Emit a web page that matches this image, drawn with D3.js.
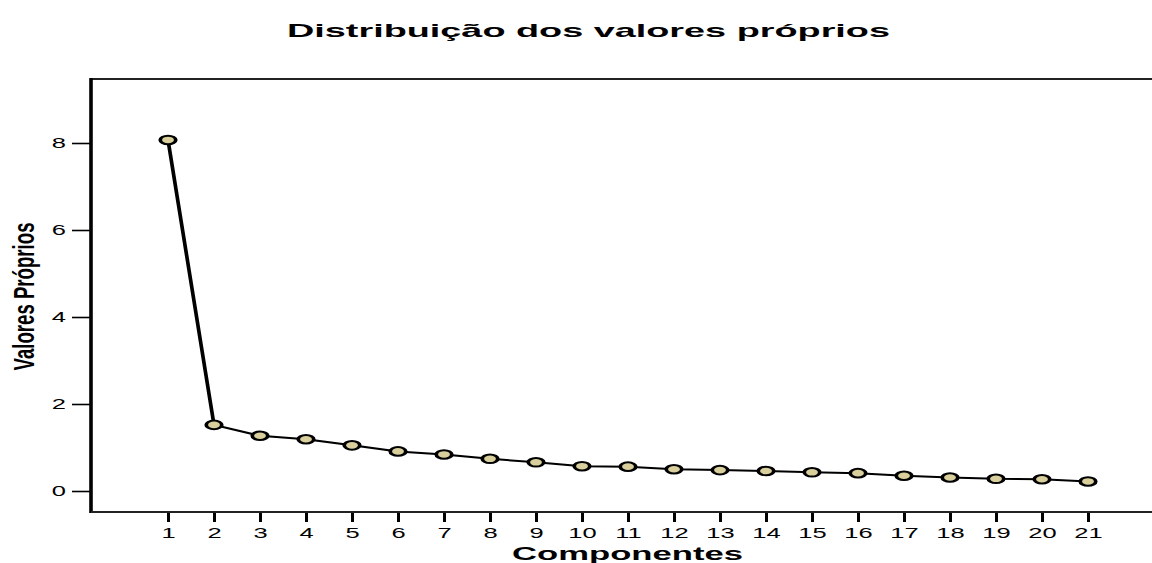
<!DOCTYPE html>
<html>
<head>
<meta charset="utf-8">
<script src="https://cdn.jsdelivr.net/npm/d3@7/dist/d3.min.js"></script>
<style>
  html, body { margin: 0; padding: 0; background: #fff; }
  svg { display: block; font-family: "Liberation Sans", Arial, sans-serif; }
</style>
</head>
<body>
<svg id="chart" width="1152" height="563"></svg>
<script>
// Eigenvalues per principal component (scree plot)
const components = d3.range(1, 22);
const eigenvalues = [8.07, 1.52, 1.27, 1.19, 1.05, 0.91, 0.84, 0.74, 0.66, 0.57, 0.56,
                     0.50, 0.48, 0.46, 0.43, 0.41, 0.35, 0.31, 0.28, 0.27, 0.22];
const yTicks = [0, 2, 4, 6, 8];

const titleText = "Distribuição dos valores próprios";
const xLabel = "Componentes";
const yLabel = "Valores Próprios";

(function draw() {
  const svg = d3.select("#chart");
  const plotLeft = 91, plotRight = 1152, plotTop = 79, plotBottom = 512;
  const stretch = 1.85;   // horizontal widening of the whole figure

  const x = d3.scaleLinear().domain([1, 21]).range([168, 1088]);
  const y = d3.scaleLinear().domain([0, 8]).range([491, 143]);

  // title
  svg.append("text")
    .attr("x", 588.5).attr("y", 36.5)
    .attr("text-anchor", "middle")
    .attr("font-size", 17.8).attr("font-weight", "bold")
    .attr("textLength", 603).attr("lengthAdjust", "spacingAndGlyphs")
    .text(titleText);

  // top frame line
  svg.append("line")
    .attr("x1", plotLeft).attr("x2", plotRight).attr("y1", plotTop).attr("y2", plotTop)
    .attr("stroke", "#222").attr("stroke-width", 1.8);

  // y axis
  const yAxis = svg.append("g")
    .attr("transform", `translate(${plotLeft},0)`)
    .call(d3.axisLeft(y).tickValues(yTicks).tickSize(19).tickFormat(d3.format("d")));
  yAxis.select(".domain").remove();
  yAxis.selectAll(".tick line").attr("stroke", "#000").attr("stroke-width", 1.6);
  yAxis.selectAll(".tick text")
    .attr("x", 0)
    .attr("transform", `translate(-25,0) scale(${stretch - 0.15},1)`)
    .attr("font-size", 15).attr("fill", "#000")
    .attr("font-family", "Liberation Sans, Arial, sans-serif");
  svg.append("line")
    .attr("x1", plotLeft).attr("x2", plotLeft).attr("y1", plotTop - 1).attr("y2", plotBottom + 1)
    .attr("stroke", "#000").attr("stroke-width", 3.6);

  // x axis
  const xAxis = svg.append("g")
    .attr("transform", `translate(0,${plotBottom})`)
    .call(d3.axisBottom(x).tickValues(components).tickSize(10).tickPadding(5).tickFormat(d3.format("d")));
  xAxis.select(".domain").remove();
  xAxis.selectAll(".tick line").attr("stroke", "#000").attr("stroke-width", 3);
  xAxis.selectAll(".tick text")
    .attr("transform", `scale(${stretch - 0.15},1)`)
    .attr("font-size", 15).attr("fill", "#000")
    .attr("font-family", "Liberation Sans, Arial, sans-serif");
  svg.append("line")
    .attr("x1", plotLeft).attr("x2", plotRight).attr("y1", plotBottom).attr("y2", plotBottom)
    .attr("stroke", "#222").attr("stroke-width", 2);

  // axis titles
  svg.append("text")
    .attr("x", 627.5).attr("y", 559.5)
    .attr("text-anchor", "middle")
    .attr("font-size", 17.5).attr("font-weight", "bold")
    .attr("textLength", 231).attr("lengthAdjust", "spacingAndGlyphs")
    .text(xLabel);

  svg.append("text")
    .attr("transform", `translate(34,296.5) scale(${stretch},1) rotate(-90)`)
    .attr("text-anchor", "middle")
    .attr("font-size", 15.5).attr("font-weight", "bold")
    .attr("textLength", 148).attr("lengthAdjust", "spacingAndGlyphs")
    .text(yLabel);

  // series: drawn in unstretched units, then widened horizontally so
  // steep strokes come out thicker like the rest of the figure
  const xs = d3.scaleLinear().domain([1, 21]).range([168 / stretch, 1088 / stretch]);
  const pts = components.map((c, i) => [c, eigenvalues[i]]);
  const series = svg.append("g").attr("transform", `scale(${stretch},1)`);

  series.append("path")
    .datum(pts)
    .attr("fill", "none")
    .attr("stroke", "#000")
    .attr("stroke-width", 2)
    .attr("d", d3.line().x(d => xs(d[0])).y(d => y(d[1])));

  series.selectAll("ellipse")
    .data(pts)
    .join("ellipse")
    .attr("cx", d => xs(d[0]))
    .attr("cy", d => y(d[1]))
    .attr("rx", 4.2).attr("ry", 4.3)
    .attr("fill", "#d8cf9c")
    .attr("stroke", "#000")
    .attr("stroke-width", 2);
})();
</script>
</body>
</html>
